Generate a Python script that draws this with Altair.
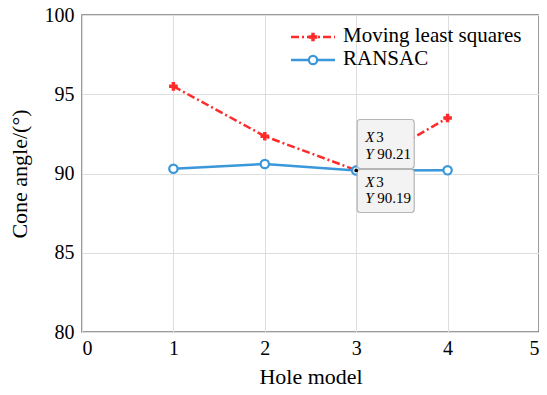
import altair as alt
import pandas as pd

holes = [1, 2, 3, 4]
mls = [95.5, 92.35, 90.21, 93.5]
ransac = [90.3, 90.6, 90.19, 90.2]
series_names = ["Moving least squares", "RANSAC"]
tip_x = 3
tip_mls = "90.21"
tip_ransac = "90.19"

RED = "#ff2b2b"
BLUE = "#3a97d9"
FONT = "Liberation Serif"

df_mls = pd.DataFrame({"x": holes, "y": mls})
df_ran = pd.DataFrame({"x": holes, "y": ransac})

xs = alt.Scale(domain=[0, 5], nice=False, zero=False)
ys = alt.Scale(domain=[80, 100], nice=False, zero=False)

xax = alt.Axis(values=[0, 1, 2, 3, 4, 5], title="Hole model", format="d")
yax = alt.Axis(values=[80, 85, 90, 95, 100], title="Cone angle/(°)", format="d")

X = alt.X("x:Q", scale=xs, axis=xax)
Y = alt.Y("y:Q", scale=ys, axis=yax)
Xp = alt.X("x:Q", scale=xs)
Yp = alt.Y("y:Q", scale=ys)

mls_line = alt.Chart(df_mls).mark_line(color=RED, strokeWidth=2.5, strokeDash=[8, 3, 2, 3]).encode(x=X, y=Y)
mls_pts = alt.Chart(df_mls).mark_point(shape="cross", filled=True, color=RED, size=75, opacity=1).encode(x=Xp, y=Yp)
ran_line = alt.Chart(df_ran).mark_line(color=BLUE, strokeWidth=2.5).encode(x=Xp, y=Yp)
ran_pts = alt.Chart(df_ran).mark_point(shape="circle", filled=False, fill="white", fillOpacity=1,
                                       color=BLUE, strokeWidth=2.2, size=70, opacity=1).encode(x=Xp, y=Yp)

# data tip at x=3
tip_df = pd.DataFrame({"x": [tip_x], "y": [ransac[2]]})
box_top = alt.Chart(tip_df).mark_rect(fill="#f3f3f3", stroke="#b5b5b5", strokeWidth=1.2, cornerRadius=3,
                                      xOffset=1, x2Offset=58, yOffset=-51, y2Offset=-2).encode(
    x=Xp, x2=alt.X2("x"), y=Yp, y2=alt.Y2("y"))
box_bot = alt.Chart(tip_df).mark_rect(fill="#f3f3f3", stroke="#b5b5b5", strokeWidth=1.2, cornerRadius=3,
                                      xOffset=1, x2Offset=58, yOffset=-1, y2Offset=42).encode(
    x=Xp, x2=alt.X2("x"), y=Yp, y2=alt.Y2("y"))
tip_dot = alt.Chart(tip_df).mark_point(shape="circle", filled=True, color="black", size=14, opacity=1).encode(x=Xp, y=Yp)


def tip_text(txt, dx, dy, italic):
    return alt.Chart(tip_df).mark_text(text=txt, font=FONT, fontSize=15, align="left", baseline="middle",
                                       fontStyle="italic" if italic else "normal", color="black",
                                       dx=dx, dy=dy).encode(x=Xp, y=Yp)


tips = [
    tip_text("X", 9, -33, True), tip_text("3", 20, -33, False),
    tip_text("Y", 9, -16, True), tip_text(tip_mls, 21, -16, False),
    tip_text("X", 9, 12, True), tip_text("3", 20, 12, False),
    tip_text("Y", 9, 28, True), tip_text(tip_ransac, 21, 28, False),
]

# legend
leg = pd.DataFrame({"name": series_names})
leg1 = leg.iloc[[0]]
leg2 = leg.iloc[[1]]
l1_line = alt.Chart(leg1).mark_rule(color=RED, strokeWidth=2.5, strokeDash=[8, 3, 2, 3]).encode(
    x=alt.value(209), x2=alt.value(253), y=alt.value(22))
l1_pt = alt.Chart(leg1).mark_point(shape="cross", filled=True, color=RED, size=75, opacity=1).encode(
    x=alt.value(231), y=alt.value(22))
l1_txt = alt.Chart(leg1).mark_text(font=FONT, fontSize=21, align="left", baseline="middle", color="black").encode(
    x=alt.value(261), y=alt.value(21), text="name:N")
l2_line = alt.Chart(leg2).mark_rule(color=BLUE, strokeWidth=2.5).encode(
    x=alt.value(209), x2=alt.value(253), y=alt.value(45))
l2_pt = alt.Chart(leg2).mark_point(shape="circle", filled=False, fill="white", fillOpacity=1, color=BLUE,
                                   strokeWidth=2.2, size=70, opacity=1).encode(x=alt.value(231), y=alt.value(45))
l2_txt = alt.Chart(leg2).mark_text(font=FONT, fontSize=21, align="left", baseline="middle", color="black").encode(
    x=alt.value(261), y=alt.value(44), text="name:N")

chart = alt.layer(
    mls_line, ran_line, mls_pts, ran_pts, box_top, box_bot, tip_dot, *tips,
    l1_line, l1_pt, l1_txt, l2_line, l2_pt, l2_txt
).properties(
    width=457, height=317,
    autosize=alt.AutoSizeParams(type="none"),
    padding={"left": 74, "top": 7, "right": 0, "bottom": 55},
    background="white",
).configure_view(
    stroke="#7a7a7a", strokeWidth=1.5
).configure_axis(
    labelFont=FONT, labelFontSize=20, labelColor="black",
    titleFont=FONT, titleFontSize=22, titleFontWeight="normal", titleColor="black",
    grid=True, gridColor="#dedede", domain=False, ticks=False,
).configure_axisX(
    labelPadding=6, titlePadding=8,
).configure_axisY(
    labelPadding=8, titlePadding=13,
)

chart.save("out.html", embed_options={"renderer": "svg", "actions": False})
